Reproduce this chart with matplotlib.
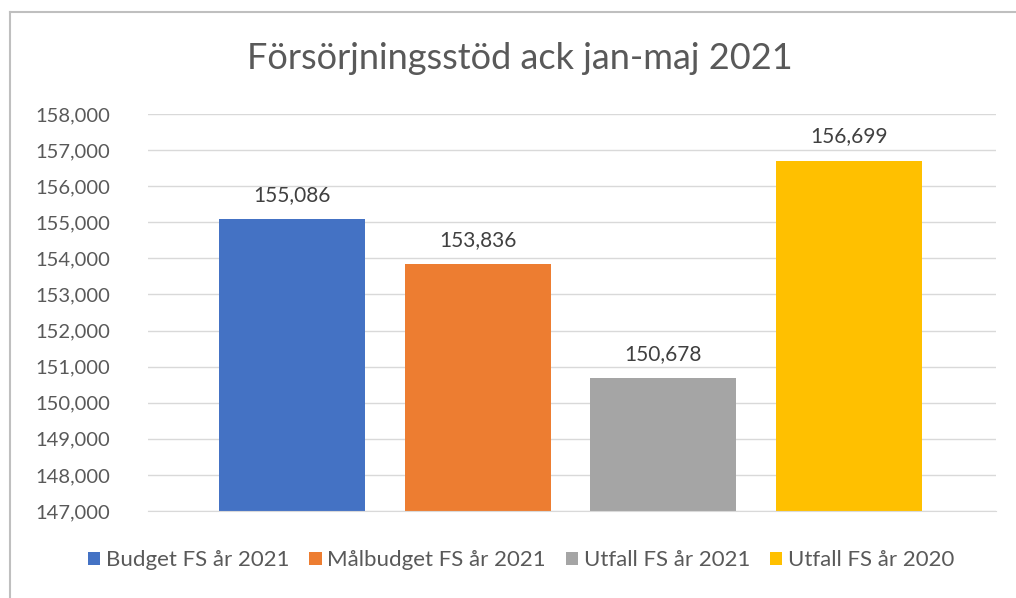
import matplotlib.pyplot as plt
from matplotlib.lines import Line2D
from matplotlib.ticker import FuncFormatter

# data
serier = ['Budget FS år 2021', 'Målbudget FS år 2021', 'Utfall FS år 2021', 'Utfall FS år 2020']
varden = [155086, 153836, 150678, 156699]
farger = ['#4472C4', '#ED7D31', '#A5A5A5', '#FFC000']
y_ticks = list(range(147000, 158001, 1000))

plt.rcParams['font.family'] = ['Lato', 'DejaVu Sans']
textfarg = '#595959'

fig = plt.figure(figsize=(10.16, 5.98), dpi=100)
ax = fig.add_axes([0.1457, 0.1455, 0.8346, 0.6639])

x_pos = range(len(serier))
for i in x_pos:
    ax.bar(i, varden[i] - 147000, 0.785, bottom=147000, color=farger[i], label=serier[i])
    ax.text(i, varden[i] + 400, f'{varden[i]:,}', ha='center', va='bottom',
            fontsize=15, color='#404040')

ax.set_ylim(147000, 158000)
ax.set_xlim(-0.774, 3.79)
ax.set_yticks(y_ticks)
ax.yaxis.set_major_formatter(FuncFormatter(lambda v, p: f'{int(v):,}'))
ax.set_xticks([])
ax.tick_params(axis='y', length=0, labelsize=14.5, labelcolor=textfarg, pad=27)
ax.grid(axis='y', color='#d9d9d9', linewidth=1)
ax.set_axisbelow(True)
for s in ['top', 'right', 'left']:
    ax.spines[s].set_visible(False)
ax.spines['bottom'].set_color('#d9d9d9')

fig.text(0.512, 0.903, 'Försörjningsstöd ack jan-maj 2021', ha='center', va='center',
         fontsize=26, color=textfarg)

fig.legend(loc='center', bbox_to_anchor=(0.513, 0.063), ncol=4, frameon=False,
           fontsize=16, labelcolor=textfarg, handlelength=0.55, handleheight=0.55,
           handletextpad=0.25, columnspacing=0.9)

# ram runt diagrammet
fig.add_artist(Line2D([10/1016, 1], [1 - 12/598, 1 - 12/598], color='#bfbfbf', lw=1.5,
                      transform=fig.transFigure))
fig.add_artist(Line2D([10/1016, 10/1016], [0, 1 - 12/598], color='#bfbfbf', lw=1.5,
                      transform=fig.transFigure))

fig.savefig('out.png', dpi=100)
